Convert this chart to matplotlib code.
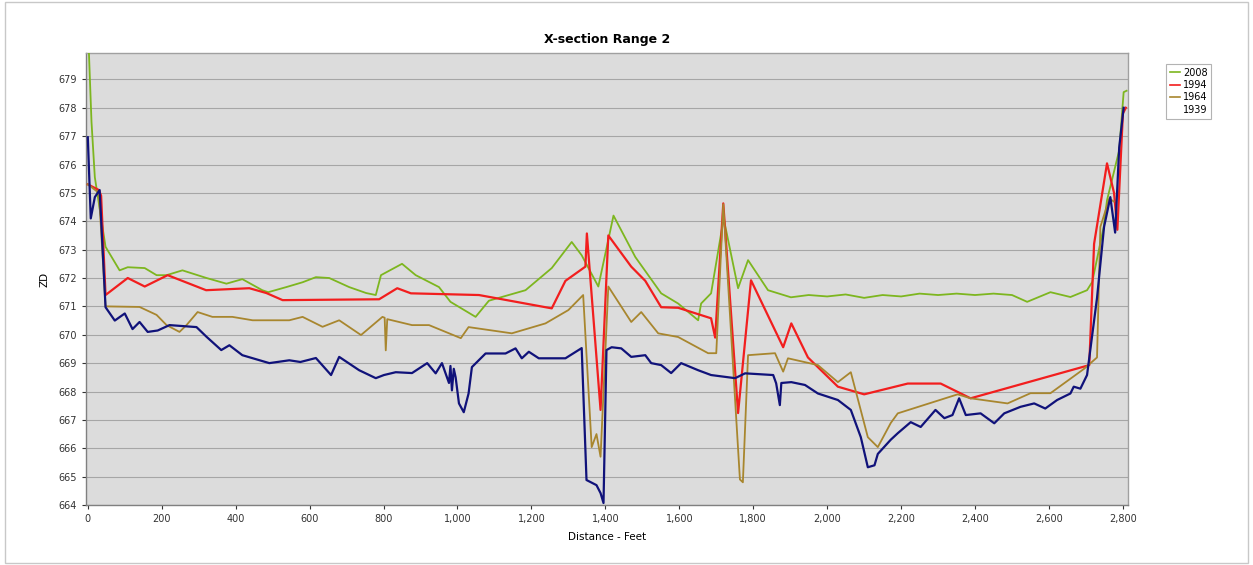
import matplotlib
matplotlib.use('Agg')
import matplotlib.pyplot as plt
from matplotlib.lines import Line2D
from matplotlib.patches import Rectangle
from matplotlib.ticker import FuncFormatter, MultipleLocator

# ---------------------------------------------------------------------------
# Data (distance in feet, elevation)
# ---------------------------------------------------------------------------
x_2008 = [0, 10, 19, 48, 86, 108, 154, 186, 213, 256, 321, 375, 418, 472, 488,
          537, 581, 617, 653, 707, 753, 779, 793, 850, 887, 950, 981, 1049,
          1085, 1184, 1255, 1309, 1336, 1381, 1422, 1481, 1551, 1597, 1651,
          1659, 1686, 1720, 1759, 1786, 1840, 1902, 1950, 2000, 2050, 2100,
          2150, 2200, 2250, 2300, 2350, 2400, 2450, 2500, 2541, 2604, 2658,
          2703, 2717, 2748, 2757, 2790, 2802, 2810]
y_2008 = [681.0, 677.5, 675.55, 673.1, 672.27, 672.38, 672.35, 672.1, 672.1,
          672.27, 672.0, 671.8, 671.96, 671.57, 671.5, 671.68, 671.85, 672.03,
          672.0, 671.68, 671.47, 671.4, 672.1, 672.5, 672.1, 671.68, 671.16,
          670.63, 671.2, 671.57, 672.35, 673.27, 672.8, 671.7, 674.2, 672.74,
          671.46, 671.1, 670.51, 671.1, 671.46, 674.1, 671.64, 672.63, 671.57,
          671.32, 671.4, 671.35, 671.42, 671.3, 671.4, 671.35, 671.45, 671.4,
          671.45, 671.4, 671.45, 671.4, 671.16, 671.5, 671.33, 671.57, 671.86,
          673.8, 674.74, 676.5, 678.55, 678.6]

x_1994 = [0, 30, 36, 48, 108, 154, 216, 320, 437, 483, 527, 788, 837, 874,
          1058, 1255, 1292, 1346, 1350, 1387, 1408, 1470, 1508, 1551, 1597,
          1686, 1697, 1719, 1759, 1794, 1881, 1903, 1948, 2029, 2100, 2218,
          2307, 2388, 2709, 2722, 2757, 2776, 2785, 2800, 2808]
y_1994 = [675.3, 675.1, 674.9, 671.4, 672.0, 671.7, 672.1, 671.57, 671.64,
          671.47, 671.22, 671.25, 671.64, 671.46, 671.4, 670.93, 671.9, 672.4,
          673.57, 667.35, 673.5, 672.4, 671.9, 670.97, 670.95, 670.58, 669.9,
          674.63, 667.24, 671.92, 669.56, 670.4, 669.2, 668.17, 667.9, 668.28,
          668.28, 667.76, 668.93, 673.2, 676.04, 675.0, 673.7, 677.8, 678.0]

x_1964 = [0, 30, 48, 140, 186, 213, 248, 267, 297, 337, 391, 446, 545, 581,
          635, 680, 739, 797, 803, 806, 810, 877, 923, 1009, 1030, 1147, 1238,
          1300, 1340, 1363, 1376, 1387, 1408, 1470, 1497, 1543, 1597, 1678,
          1700, 1719, 1764, 1772, 1786, 1859, 1881, 1894, 1975, 2029, 2064,
          2110, 2137, 2172, 2191, 2353, 2388, 2488, 2550, 2604, 2695, 2730,
          2739, 2763, 2775]
y_1964 = [675.3, 675.0, 671.0, 670.98, 670.7, 670.34, 670.1, 670.34, 670.8,
          670.63, 670.63, 670.51, 670.51, 670.63, 670.28, 670.51, 669.99,
          670.63, 670.6, 669.45, 670.55, 670.34, 670.34, 669.88, 670.27,
          670.05, 670.4, 670.87, 671.4, 666.04, 666.5, 665.7, 671.7, 670.45,
          670.8, 670.05, 669.92, 669.35, 669.35, 674.6, 664.9, 664.8, 669.28,
          669.35, 668.7, 669.17, 668.93, 668.33, 668.68, 666.39, 666.04,
          666.89, 667.23, 667.9, 667.76, 667.58, 667.94, 667.94, 668.8, 669.2,
          673.8, 674.8, 674.7]

x_1939 = [0, 8, 19, 32, 48, 73, 100, 121, 140, 162, 189, 221, 294, 321, 361,
          383, 418, 491, 545, 575, 617, 658, 680, 734, 779, 801, 833, 877, 918,
          941, 958, 977, 981, 985, 990, 995, 1004, 1017, 1030, 1039, 1076,
          1130, 1157, 1174, 1193, 1220, 1292, 1336, 1349, 1376, 1387, 1395,
          1403, 1417, 1443, 1470, 1508, 1524, 1551, 1578, 1605, 1651, 1686,
          1751, 1778, 1854, 1862, 1872, 1876, 1903, 1940, 1975, 2029, 2064,
          2091, 2110, 2128, 2137, 2172, 2191, 2226, 2253, 2293, 2317, 2339,
          2357, 2375, 2415, 2452, 2479, 2523, 2560, 2590, 2622, 2658, 2667,
          2685, 2703, 2730, 2749, 2766, 2779, 2790, 2802]
y_1939 = [676.96, 674.1, 674.85, 675.1, 670.97, 670.5, 670.75, 670.2, 670.45,
          670.1, 670.15, 670.34, 670.27, 669.93, 669.46, 669.63, 669.28, 669.0,
          669.1, 669.04, 669.18, 668.58, 669.22, 668.75, 668.47, 668.58,
          668.68, 668.65, 669.0, 668.64, 669.0, 668.3, 668.9, 668.04, 668.8,
          668.5, 667.58, 667.27, 667.93, 668.86, 669.34, 669.34, 669.52,
          669.17, 669.4, 669.17, 669.17, 669.53, 664.88, 664.7, 664.42, 664.07,
          669.46, 669.56, 669.52, 669.22, 669.28, 669.0, 668.93, 668.65, 669.0,
          668.75, 668.58, 668.47, 668.64, 668.58, 668.29, 667.52, 668.3,
          668.33, 668.23, 667.93, 667.7, 667.35, 666.39, 665.33, 665.4, 665.8,
          666.3, 666.53, 666.92, 666.75, 667.35, 667.06, 667.17, 667.76,
          667.17, 667.23, 666.88, 667.23, 667.46, 667.58, 667.4, 667.7, 667.93,
          668.17, 668.1, 668.58, 671.3, 673.8, 674.85, 673.6, 676.6, 678.0]

series = [
    ('2008', x_2008, y_2008, '#7DB61F', 1.3),
    ('1994', x_1994, y_1994, '#F21E1E', 1.6),
    ('1964', x_1964, y_1964, '#A8862E', 1.3),
    ('1939', x_1939, y_1939, '#10127A', 1.6),
]

fig = plt.figure(figsize=(12.53, 5.65), dpi=100)
fig.patch.set_facecolor('white')
fig.patches.append(Rectangle((0.004, 0.004), 0.992, 0.992, transform=fig.transFigure,
                             fill=False, edgecolor='#C8C8C8', linewidth=1.0))

ax = fig.add_axes([0.0686, 0.1062, 0.832, 0.8])
ax.set_facecolor('#DCDCDC')

for name, xs, ys, colour, lw in series:
    ax.plot(xs, ys, color=colour, linewidth=lw, label=name, zorder=3)

ax.set_xlim(-5, 2815)
ax.set_ylim(664, 679.93)
ax.yaxis.set_major_locator(MultipleLocator(1))
ax.xaxis.set_major_locator(MultipleLocator(200))
ax.xaxis.set_major_formatter(FuncFormatter(lambda v, p: f'{int(v):,}'))
ax.grid(axis='y', color='#A6A6A6', linewidth=0.8, zorder=1)
ax.set_axisbelow(True)

for side, spine in ax.spines.items():
    spine.set_edgecolor('#808080' if side in ('left', 'bottom') else '#A0A0A0')
    spine.set_linewidth(1.0)
ax.tick_params(labelsize=7, colors='#333333', length=3, width=0.8)

ax.set_title('X-section Range 2', fontsize=9, fontweight='bold', pad=7)
ax.set_xlabel('Distance - Feet', fontsize=7.5, labelpad=6)
ax.set_ylabel('ZD', fontsize=7.5, labelpad=6)

handles = [Line2D([], [], color=c, linewidth=1.2) for _, _, _, c, _ in series[:3]]
handles.append(Line2D([], [], color='white', alpha=0.0))
leg = fig.legend(handles, [s[0] for s in series], loc='upper left',
                 bbox_to_anchor=(0.927, 0.896), fontsize=7, frameon=True,
                 fancybox=False, handlelength=1.0, handletextpad=0.3,
                 borderpad=0.4, labelspacing=0.25)
leg.get_frame().set_edgecolor('#A0A0A0')
leg.get_frame().set_linewidth(0.8)

fig.savefig('out.png', dpi=100)
